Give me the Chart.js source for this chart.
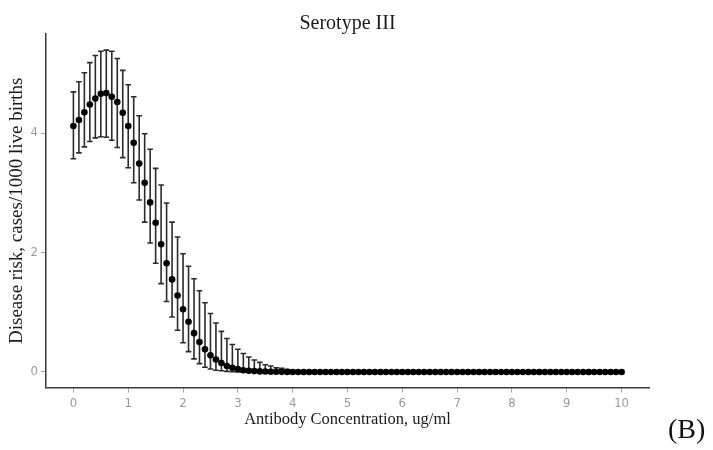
<!DOCTYPE html>
<html lang="en">

<head>
    <meta charset="UTF-8">
    <title>Serotype III</title>
    <script src="https://cdn.jsdelivr.net/npm/chart.js"></script>
    <style>
        body {
            margin: 0;
            background: #ffffff;
            overflow: hidden;
        }

        .wrap {
            position: relative;
            width: 713px;
            height: 450px;
        }

        .panel-tag {
            position: absolute;
            left: 668px;
            top: 413px;
            font-family: "Liberation Serif", "Times New Roman", serif;
            font-size: 28px;
            color: #111;
        }
    </style>
</head>

<body>
    <div class="wrap">
        <canvas id="riskChart" width="713" height="450"></canvas>
        <div class="panel-tag">(B)</div>
    </div>

    <script>
        // antibody concentration (ug/ml) and modelled risk with 95% interval
        const concentration = [
            0.0, 0.1, 0.2, 0.3, 0.4, 0.5, 0.6, 0.7, 0.8, 0.9,
            1.0, 1.1, 1.2, 1.3, 1.4, 1.5, 1.6, 1.7, 1.8, 1.9,
            2.0, 2.1, 2.2, 2.3, 2.4, 2.5, 2.6, 2.7, 2.8, 2.9,
            3.0, 3.1, 3.2, 3.3, 3.4, 3.5, 3.6, 3.7, 3.8, 3.9,
            4.0, 4.1, 4.2, 4.3, 4.4, 4.5, 4.6, 4.7, 4.8, 4.9,
            5.0, 5.1, 5.2, 5.3, 5.4, 5.5, 5.6, 5.7, 5.8, 5.9,
            6.0, 6.1, 6.2, 6.3, 6.4, 6.5, 6.6, 6.7, 6.8, 6.9,
            7.0, 7.1, 7.2, 7.3, 7.4, 7.5, 7.6, 7.7, 7.8, 7.9,
            8.0, 8.1, 8.2, 8.3, 8.4, 8.5, 8.6, 8.7, 8.8, 8.9,
            9.0, 9.1, 9.2, 9.3, 9.4, 9.5, 9.6, 9.7, 9.8, 9.9,
            10.0
        ];

        const riskMean = [
            4.12, 4.22, 4.35, 4.48, 4.58, 4.66, 4.67, 4.61, 4.52, 4.34,
            4.12, 3.84, 3.49, 3.17, 2.84, 2.50, 2.14, 1.82, 1.55, 1.28,
            1.05, 0.84, 0.65, 0.50, 0.38, 0.28, 0.21, 0.15, 0.10, 0.07,
            0.05, 0.03, 0.02, 0.015, 0.01, 0.007, 0.005, 0.003, 0.002, 0.001,
            0, 0, 0, 0, 0, 0, 0, 0, 0, 0,
            0, 0, 0, 0, 0, 0, 0, 0, 0, 0,
            0, 0, 0, 0, 0, 0, 0, 0, 0, 0,
            0, 0, 0, 0, 0, 0, 0, 0, 0, 0,
            0, 0, 0, 0, 0, 0, 0, 0, 0, 0,
            0, 0, 0, 0, 0, 0, 0, 0, 0, 0,
            0
        ];

        const riskUpper = [
            4.69, 4.86, 5.01, 5.18, 5.30, 5.37, 5.39, 5.37, 5.25, 5.05,
            4.81, 4.61, 4.29, 3.99, 3.73, 3.41, 3.13, 2.83, 2.51, 2.26,
            1.98, 1.77, 1.56, 1.36, 1.16, 0.98, 0.82, 0.68, 0.56, 0.46,
            0.38, 0.31, 0.25, 0.20, 0.16, 0.12, 0.10, 0.07, 0.06, 0.04,
            0.03, 0.02, 0.015, 0.01, 0.007, 0.005, 0.003, 0.002, 0.001, 0,
            0, 0, 0, 0, 0, 0, 0, 0, 0, 0,
            0, 0, 0, 0, 0, 0, 0, 0, 0, 0,
            0, 0, 0, 0, 0, 0, 0, 0, 0, 0,
            0, 0, 0, 0, 0, 0, 0, 0, 0, 0,
            0, 0, 0, 0, 0, 0, 0, 0, 0, 0,
            0
        ];

        const riskLower = [
            3.57, 3.67, 3.77, 3.86, 3.92, 3.94, 3.93, 3.88, 3.76, 3.59,
            3.42, 3.17, 2.88, 2.51, 2.16, 1.82, 1.48, 1.18, 0.92, 0.70,
            0.49, 0.34, 0.22, 0.14, 0.08, 0.05, 0.03, 0.02, 0.01, 0.005,
            0, 0, 0, 0, 0, 0, 0, 0, 0, 0,
            0, 0, 0, 0, 0, 0, 0, 0, 0, 0,
            0, 0, 0, 0, 0, 0, 0, 0, 0, 0,
            0, 0, 0, 0, 0, 0, 0, 0, 0, 0,
            0, 0, 0, 0, 0, 0, 0, 0, 0, 0,
            0, 0, 0, 0, 0, 0, 0, 0, 0, 0,
            0, 0, 0, 0, 0, 0, 0, 0, 0, 0,
            0
        ];

        const xTicks = [0, 1, 2, 3, 4, 5, 6, 7, 8, 9, 10];
        const yTicks = [0, 2, 4];
        const chartTitle = 'Serotype III';

        const serif = '"Liberation Serif", "Times New Roman", serif';
        const tickFont = '"Liberation Sans Narrow", "DejaVu Sans Condensed", "Liberation Sans", sans-serif';

        // whiskers with caps, drawn under the points
        const errorBars = {
            id: 'errorBars',
            beforeDatasetsDraw(chart) {
                const ctx = chart.ctx;
                const xs = chart.scales.x;
                const ys = chart.scales.y;
                const cap = 2.8;
                ctx.save();
                ctx.strokeStyle = '#2b2b2b';
                ctx.lineWidth = 1.6;
                concentration.forEach((c, i) => {
                    const px = xs.getPixelForValue(c);
                    const top = ys.getPixelForValue(riskUpper[i]);
                    const bot = ys.getPixelForValue(riskLower[i]);
                    ctx.beginPath();
                    ctx.moveTo(px, top);
                    ctx.lineTo(px, bot);
                    ctx.moveTo(px - cap, top);
                    ctx.lineTo(px + cap, top);
                    ctx.moveTo(px - cap, bot);
                    ctx.lineTo(px + cap, bot);
                    ctx.stroke();
                });
                ctx.restore();
            }
        };

        // title centred over the plotting panel rather than the whole canvas
        const panelTitle = {
            id: 'panelTitle',
            afterDraw(chart) {
                const { ctx, chartArea } = chart;
                ctx.save();
                ctx.font = '20px ' + serif;
                ctx.fillStyle = '#1a1a1a';
                ctx.textAlign = 'center';
                ctx.textBaseline = 'middle';
                ctx.fillText(chartTitle, (chartArea.left + chartArea.right) / 2, 24);
                ctx.restore();
            }
        };

        const ctx = document.getElementById('riskChart').getContext('2d');

        new Chart(ctx, {
            type: 'scatter',
            data: {
                datasets: [{
                    data: concentration.map((c, i) => ({ x: c, y: riskMean[i] })),
                    backgroundColor: '#000000',
                    borderColor: '#000000',
                    borderWidth: 0,
                    pointRadius: 3.3
                }]
            },
            options: {
                responsive: false,
                animation: false,
                layout: {
                    padding: { top: 34, right: 64, bottom: 0, left: 0 }
                },
                plugins: {
                    legend: { display: false },
                    tooltip: { enabled: false },
                    title: { display: false }
                },
                scales: {
                    x: {
                        type: 'linear',
                        min: -0.5,
                        max: 10.5,
                        afterBuildTicks: (scale) => {
                            scale.ticks = xTicks.map(v => ({ value: v }));
                        },
                        afterFit: (scale) => {
                            scale.height = 62.5;
                        },
                        border: { display: true, color: '#3a3a3a', width: 1.5 },
                        grid: {
                            drawOnChartArea: false,
                            drawTicks: true,
                            tickLength: 5,
                            color: '#a8a8a8'
                        },
                        ticks: {
                            color: '#9a9a9a',
                            padding: 3,
                            maxRotation: 0,
                            font: { family: tickFont, size: 13 }
                        },
                        title: {
                            display: true,
                            text: 'Antibody Concentration, ug/ml',
                            color: '#1a1a1a',
                            font: { family: serif, size: 16.5, lineHeight: 1.2 },
                            padding: { top: 0, bottom: 20 }
                        }
                    },
                    y: {
                        type: 'linear',
                        min: -0.26,
                        max: 5.66,
                        afterBuildTicks: (scale) => {
                            scale.ticks = yTicks.map(v => ({ value: v }));
                        },
                        afterFit: (scale) => {
                            scale.width = 46;
                        },
                        border: { display: true, color: '#3a3a3a', width: 1.5 },
                        grid: {
                            drawOnChartArea: false,
                            drawTicks: true,
                            tickLength: 5,
                            color: '#a8a8a8'
                        },
                        ticks: {
                            color: '#9a9a9a',
                            padding: 3,
                            font: { family: tickFont, size: 13 }
                        },
                        title: {
                            display: true,
                            text: 'Disease risk, cases/1000 live births',
                            color: '#1a1a1a',
                            font: { family: serif, size: 19, lineHeight: 1.2 },
                            padding: { top: 6, bottom: 0 }
                        }
                    }
                }
            },
            plugins: [errorBars, panelTitle]
        });
    </script>
</body>

</html>
